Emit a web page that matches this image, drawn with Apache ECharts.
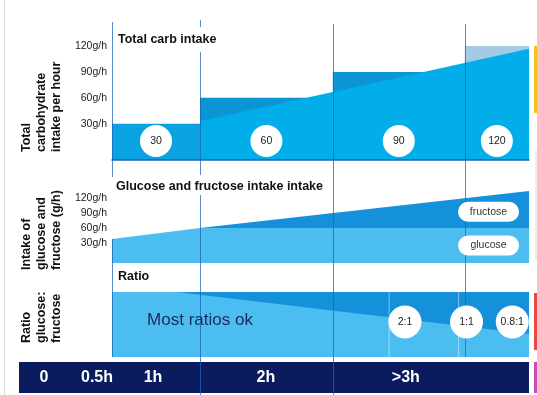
<!DOCTYPE html>
<html>
<head>
<meta charset="utf-8">
<script src="https://cdn.jsdelivr.net/npm/echarts@6/dist/echarts.min.js"></script>
<style>html,body{margin:0;padding:0;background:#fff}#c{width:537px;height:395px}</style>
</head>
<body>
<div id="c"></div>
<script>
// ---------------- data ----------------
const phaseEdges = [0, 1, 2.51, 4.01, 4.74];          // phase boundaries on the time axis
const totalSteps = [30, 60, 90, 120];                  // total carb intake per phase (g/h)
const stepLabels = ['30', '60', '90', '120'];
const rampTotal = [[1, 33], [4.74, 117]];              // gradual increase of intake
const topTicks = [30, 60, 90, 120];
const midTicks = [30, 60, 90, 120];
const glucoseIntake = [[0, 38], [1, 60], [4.74, 60]];  // glucose g/h
const totalIntake = [[1, 60], [4.74, 134]];            // glucose + fructose g/h
const ratioBoundary = [[0, 1], [0.74, 1], [4.74, 0.354]];
const ratioPos = [3.33, 4.03, 4.55];
const ratioLabels = ['2:1', '1:1', '0.8:1'];
const ratioGuides = [3.15, 3.94];
const timeLabels = ['0', '0.5h', '1h', '2h', '>3h'];
const timeLabelPos = [-0.773, -0.17, 0.466, 1.75, 3.34];

// ---------------- layout / style ----------------
const FF = '"Liberation Sans", Arial, Helvetica, sans-serif';
const stepColors = ['#0aa2e0', '#0b95d5', '#0b95d5', '#a3cbe8'];
const rampColor = '#02aee9';
const glucoseColor = '#4cbdf1';
const fructoseColor = '#1590db';
const navy = '#0b1c5e';
const lineColor = 'rgba(30,100,180,0.75)';
const topMin = -12, topMax = 149, midMin = -10, midMax = 156;
const circleRowTop = 10, circleRowRatio = 0.54, pillX = 4.28;
const xMax = phaseEdges[phaseEdges.length - 1];
// divider segments: [x, pixelTop, pixelBottom]
const dividerSegs = [[0, 22, 177], [0, 239, 357], [1, 20, 27], [1, 52, 175], [1, 195, 395],
                     [2.51, 24, 395], [4.01, 24, 357]];

const stepsData = totalSteps.map((v, i) => [phaseEdges[i], phaseEdges[i + 1], v, i]);
const circleData = totalSteps.map((v, i) => ({value: [(phaseEdges[i] + phaseEdges[i + 1]) / 2, circleRowTop], name: stepLabels[i]}));
function totalAt(x) {
  const a = totalIntake[0], b = totalIntake[totalIntake.length - 1];
  return a[1] + (b[1] - a[1]) * (x - a[0]) / (b[0] - a[0]);
}
const pillData = [
  [pillX, (glucoseIntake[glucoseIntake.length - 1][1] + totalAt(pillX)) / 2, 'fructose'],
  [pillX, (midMin + glucoseIntake[glucoseIntake.length - 1][1]) / 2, 'glucose']
];
const ratioData = ratioPos.map((x, i) => ({value: [x, circleRowRatio], name: ratioLabels[i]}));
const timeData = timeLabelPos.map((x, i) => [x, 0.5, timeLabels[i]]);

function hiddenAxis(extra) {
  return Object.assign({show: false, type: 'value', splitLine: {show: false}}, extra);
}
function valYAxis(grid, min, max, ticks) {
  return {
    type: 'value', gridIndex: grid, min: min, max: max,
    axisLine: {show: false}, axisTick: {show: false}, splitLine: {show: false},
    axisLabel: {customValues: ticks, formatter: '{value}g/h', fontSize: 10.5, color: '#222', fontFamily: FF, margin: 5}
  };
}

const chart = echarts.init(document.getElementById('c'), null, {renderer: 'canvas'});
chart.setOption({
  animation: false,
  grid: [
    {left: 112, right: 8, top: 21, height: 139},
    {left: 112, right: 8, top: 180, height: 83},
    {left: 112, right: 8, top: 292, height: 65},
    {left: 19, right: 8, top: 362, height: 31, show: true, backgroundColor: navy, borderWidth: 0},
    {left: 112, right: 8, top: 0, height: 395}
  ],
  xAxis: [
    {type: 'value', gridIndex: 0, min: 0, max: xMax, z: 10,
     axisLine: {show: true, onZero: false, lineStyle: {color: '#1a66b0', width: 1.5}},
     axisTick: {show: false}, axisLabel: {show: false}, splitLine: {show: false}},
    hiddenAxis({gridIndex: 1, min: 0, max: xMax}),
    hiddenAxis({gridIndex: 2, min: 0, max: xMax}),
    hiddenAxis({gridIndex: 3, min: -1.057, max: xMax}),
    hiddenAxis({gridIndex: 4, min: 0, max: xMax})
  ],
  yAxis: [
    valYAxis(0, topMin, topMax, topTicks),
    valYAxis(1, midMin, midMax, midTicks),
    hiddenAxis({gridIndex: 2, min: 0, max: 1}),
    hiddenAxis({gridIndex: 3, min: 0, max: 1}),
    hiddenAxis({gridIndex: 4, min: 0, max: 395, inverse: true})
  ],
  series: [
    // --- top panel: steps
    {type: 'custom', xAxisIndex: 0, yAxisIndex: 0, z: 1, data: stepsData,
     encode: {x: [0, 1], y: 2},
     renderItem: function (params, api) {
       const p0 = api.coord([api.value(0), api.value(2)]);
       const p1 = api.coord([api.value(1), topMin]);
       return {type: 'rect', shape: {x: p0[0], y: p0[1], width: p1[0] - p0[0], height: p1[1] - p0[1]},
               style: {fill: stepColors[api.value(3)]}};
     }},
    // --- top panel: ramp
    {type: 'line', xAxisIndex: 0, yAxisIndex: 0, z: 2, data: rampTotal, symbol: 'none',
     lineStyle: {width: 0}, areaStyle: {color: rampColor, opacity: 1, origin: 'start'}},
    // --- top panel: circles
    {type: 'scatter', xAxisIndex: 0, yAxisIndex: 0, z: 6, data: circleData, symbolSize: 32,
     itemStyle: {color: '#fff', opacity: 1},
     label: {show: true, position: 'inside', formatter: '{b}', color: '#222', fontSize: 10.5, fontFamily: FF}},
    // --- middle panel: fructose (total) and glucose
    {type: 'line', xAxisIndex: 1, yAxisIndex: 1, z: 1, data: totalIntake, symbol: 'none',
     lineStyle: {width: 0}, areaStyle: {color: fructoseColor, opacity: 1, origin: 'start'}},
    {type: 'line', xAxisIndex: 1, yAxisIndex: 1, z: 2, data: glucoseIntake, symbol: 'none',
     lineStyle: {width: 0}, areaStyle: {color: glucoseColor, opacity: 1, origin: 'start'}},
    // --- middle panel: pills
    {type: 'custom', xAxisIndex: 1, yAxisIndex: 1, z: 6, data: pillData,
     renderItem: function (params, api) {
       const c = api.coord([api.value(0), api.value(1)]);
       const w = 61, h = 20;
       const label = pillData[params.dataIndex][2];
       return {type: 'group', children: [
         {type: 'rect', shape: {x: c[0] - w / 2, y: c[1] - h / 2, width: w, height: h, r: 10}, style: {fill: '#fff'}},
         {type: 'text', style: {text: label, x: c[0], y: c[1], align: 'center', verticalAlign: 'middle',
           textAlign: 'center', textVerticalAlign: 'middle', fill: '#333', fontSize: 10.5, fontFamily: FF}}
       ]};
     }},
    // --- ratio panel
    {type: 'line', xAxisIndex: 2, yAxisIndex: 2, z: 1, data: [[0, 1], [xMax, 1]], symbol: 'none',
     lineStyle: {width: 0}, areaStyle: {color: fructoseColor, opacity: 1, origin: 'start'}},
    {type: 'line', xAxisIndex: 2, yAxisIndex: 2, z: 2, data: ratioBoundary, symbol: 'none',
     lineStyle: {width: 0}, areaStyle: {color: glucoseColor, opacity: 1, origin: 'start'}},
    {type: 'custom', xAxisIndex: 2, yAxisIndex: 2, z: 3, data: ratioGuides.map(x => [x]),
     renderItem: function (params, api) {
       const a = api.coord([api.value(0), 1]), b = api.coord([api.value(0), 0]);
       return {type: 'line', shape: {x1: a[0], y1: a[1], x2: b[0], y2: b[1]},
               style: {stroke: 'rgba(255,255,255,0.45)', lineWidth: 1}};
     }},
    {type: 'scatter', xAxisIndex: 2, yAxisIndex: 2, z: 6, data: ratioData, symbolSize: 33,
     itemStyle: {color: '#fff', opacity: 1},
     label: {show: true, position: 'inside', formatter: '{b}', color: '#222', fontSize: 10.5, fontFamily: FF}},
    // --- time band labels
    {type: 'custom', xAxisIndex: 3, yAxisIndex: 3, z: 6, data: timeData,
     renderItem: function (params, api) {
       const c = api.coord([api.value(0), api.value(1)]);
       return {type: 'text', style: {text: timeData[params.dataIndex][2], x: c[0], y: c[1],
         align: 'center', verticalAlign: 'middle', textAlign: 'center', textVerticalAlign: 'middle',
         fill: '#fff', fontSize: 16, fontWeight: 'bold', fontFamily: FF}};
     }},
    // --- divider lines
    {type: 'custom', xAxisIndex: 4, yAxisIndex: 4, z: 4, data: dividerSegs,
     renderItem: function (params, api) {
       const a = api.coord([api.value(0), api.value(1)]), b = api.coord([api.value(0), api.value(2)]);
       return {type: 'line', shape: {x1: Math.round(a[0]) + 0.5, y1: a[1], x2: Math.round(b[0]) + 0.5, y2: b[1]},
               style: {stroke: lineColor, lineWidth: 1}};
     }}
  ],
  graphic: [
    {type: 'rect', z: 20, shape: {x: 4, y: 0, width: 1, height: 395}, style: {fill: '#dcdcdc'}},
    {type: 'rect', z: 20, shape: {x: 534, y: 46, width: 3, height: 67}, style: {fill: '#f6c21c'}},
    {type: 'rect', z: 20, shape: {x: 535, y: 150, width: 2, height: 110}, style: {fill: '#f8ece0'}},
    {type: 'rect', z: 20, shape: {x: 534, y: 293, width: 3, height: 57}, style: {fill: '#e84b45'}},
    {type: 'rect', z: 20, shape: {x: 534, y: 362, width: 3, height: 31}, style: {fill: '#c94fae'}},
    {type: 'text', z: 20, x: 118, y: 40, style: {text: 'Total carb intake', fontSize: 12.5, fontWeight: 'bold',
      fontFamily: FF, fill: '#111', verticalAlign: 'middle', textVerticalAlign: 'middle'}},
    {type: 'text', z: 20, x: 116, y: 187, style: {text: 'Glucose and fructose intake intake', fontSize: 12.5, fontWeight: 'bold',
      fontFamily: FF, fill: '#111', verticalAlign: 'middle', textVerticalAlign: 'middle'}},
    {type: 'text', z: 20, x: 118, y: 277, style: {text: 'Ratio', fontSize: 12.5, fontWeight: 'bold',
      fontFamily: FF, fill: '#111', verticalAlign: 'middle', textVerticalAlign: 'middle'}},
    {type: 'text', z: 20, x: 200, y: 320, style: {text: 'Most ratios ok', fontSize: 17,
      fontFamily: FF, fill: '#1b2a5e', align: 'center', textAlign: 'center', verticalAlign: 'middle', textVerticalAlign: 'middle'}},
    {type: 'text', z: 20, x: 42, y: 152, rotation: Math.PI / 2, style: {text: 'Total\ncarbohydrate\nintake per hour',
      fontSize: 12.5, fontWeight: 'bold', fontFamily: FF, fill: '#111', lineHeight: 15,
      align: 'left', textAlign: 'left', verticalAlign: 'middle', textVerticalAlign: 'middle'}},
    {type: 'text', z: 20, x: 42, y: 270, rotation: Math.PI / 2, style: {text: 'Intake of\nglucose and\nfructose (g/h)',
      fontSize: 12.5, fontWeight: 'bold', fontFamily: FF, fill: '#111', lineHeight: 15,
      align: 'left', textAlign: 'left', verticalAlign: 'middle', textVerticalAlign: 'middle'}},
    {type: 'text', z: 20, x: 42, y: 343, rotation: Math.PI / 2, style: {text: 'Ratio\nglucose:\nfructose',
      fontSize: 12.5, fontWeight: 'bold', fontFamily: FF, fill: '#111', lineHeight: 15,
      align: 'left', textAlign: 'left', verticalAlign: 'middle', textVerticalAlign: 'middle'}}
  ]
});
</script>
</body>
</html>
